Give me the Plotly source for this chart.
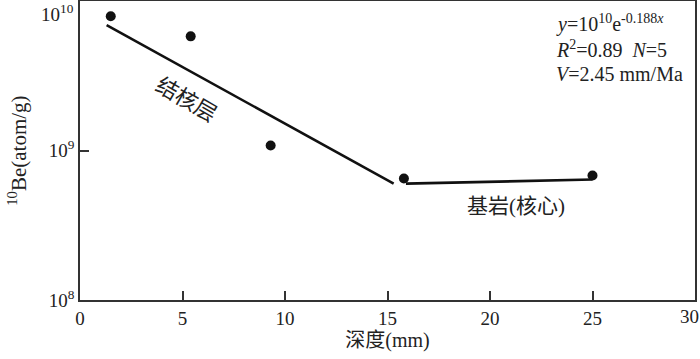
import plotly.graph_objects as go

# measured samples (depth in mm, 10Be concentration in atom/g)
depth = [1.5, 5.4, 9.3, 15.8, 25.0]
be10 = [7.9e9, 5.8e9, 1.08e9, 6.5e8, 6.8e8]

# fitted segments: weathering rind and bedrock core
rind_x = [1.3, 15.3]
rind_y = [6.9e9, 6.0e8]
core_x = [15.9, 25.0]
core_y = [6.0e8, 6.4e8]

x_ticks = [0, 5, 10, 15, 20, 25, 30]
x_tick_text = ["0", "5", "10", "15", "20", "25", ""]  # "30" sits against the edge, drawn below
y_ticks = [1e8, 1e9, 1e10]
y_tick_text = ["10<sup>8</sup>", "10<sup>9</sup>", ""]  # top label nudged down, drawn below

FONT = "Liberation Serif, Times New Roman, Noto Sans CJK SC, serif"
INK = "#111111"
FRAME = "#333333"
TEXT = "#222222"

fig = go.Figure()

fig.add_trace(go.Scatter(x=rind_x, y=rind_y, mode="lines",
                         line=dict(color=INK, width=2.6), showlegend=False))
fig.add_trace(go.Scatter(x=core_x, y=core_y, mode="lines",
                         line=dict(color=INK, width=2.6), showlegend=False))
fig.add_trace(go.Scatter(x=depth, y=be10, mode="markers",
                         marker=dict(color=INK, size=10), showlegend=False))

axis_common = dict(
    showline=True, linecolor=FRAME, linewidth=1.8, mirror=True,
    ticks="inside", ticklen=9, tickwidth=1.5, tickcolor=FRAME,
    showgrid=False, zeroline=False, automargin=False,
    ticklabeloverflow="allow",
    tickfont=dict(family=FONT, size=19, color=TEXT),
)

fig.update_xaxes(range=[0, 30], tickvals=x_ticks, ticktext=x_tick_text,
                 title=dict(text="深度(mm)", font=dict(family=FONT, size=20, color=TEXT),
                            standoff=3),
                 **axis_common)
fig.update_yaxes(type="log", range=[8, 10], tickvals=y_ticks, ticktext=y_tick_text,
                 **axis_common)

tick_font = dict(family=FONT, size=19, color=TEXT)
fig.add_annotation(text="30", xref="x", yref="paper", x=x_ticks[-1], y=0,
                   xanchor="right", yanchor="top", xshift=6, yshift=-4,
                   showarrow=False, font=tick_font)
fig.add_annotation(text="10<sup>10</sup>", xref="paper", yref="y", x=0, y=10,
                   xanchor="right", yanchor="top", xshift=-4, yshift=2,
                   showarrow=False, font=tick_font)

notes = [
    ("<i>y</i>=10<sup>10</sup>e<sup>-0.188<i>x</i></sup>", 0.925),
    ("<i>R</i><sup>2</sup>=0.89  <i>N</i>=5", 0.84),
    ("<i>V</i>=2.45 mm/Ma", 0.755),
]
for text, yy in notes:
    fig.add_annotation(text=text, xref="paper", yref="paper", x=0.771, y=yy,
                       xanchor="left", yanchor="middle", showarrow=False,
                       font=dict(family=FONT, size=20, color=TEXT))

fig.add_annotation(text="结核层", xref="paper", yref="paper", x=0.172, y=0.669,
                   xanchor="center", yanchor="middle", textangle=30, showarrow=False,
                   font=dict(family=FONT, size=22, color=TEXT))
fig.add_annotation(text="基岩(核心)", xref="paper", yref="paper", x=0.709, y=0.314,
                   xanchor="center", yanchor="middle", showarrow=False,
                   font=dict(family=FONT, size=21, color=TEXT))

fig.add_annotation(text="<sup>10</sup>Be(atom/g)", xref="paper", yref="paper",
                   x=-0.102, y=0.5, xanchor="center", yanchor="middle",
                   textangle=-90, showarrow=False,
                   font=dict(family=FONT, size=21, color=TEXT))

fig.update_layout(
    width=700, height=359,
    margin=dict(l=80, r=5, t=1, b=59),
    paper_bgcolor="white", plot_bgcolor="white",
)

# the page body has a default 8px margin; drop it so the figure sits at the corner
fig.write_html("out.html", config={"displayModeBar": False},
               post_script="document.body.style.margin='0';")
